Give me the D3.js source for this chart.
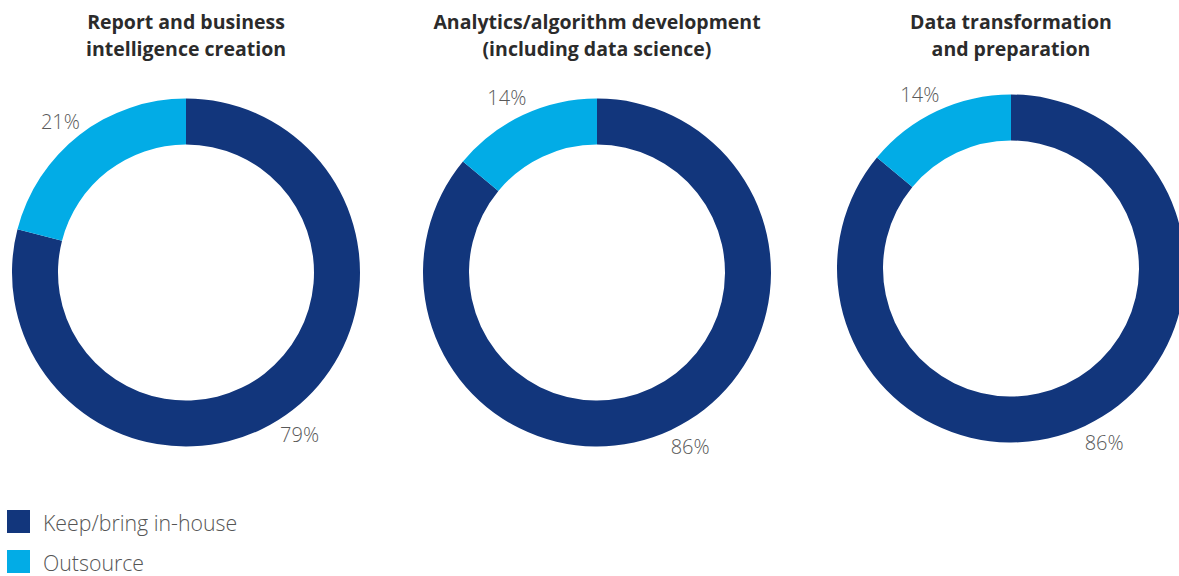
<!DOCTYPE html>
<html><head><meta charset="utf-8">
<script src="https://cdn.jsdelivr.net/npm/d3@7"></script>
<style>body{margin:0;background:#fff}svg{display:block}</style>
</head><body><svg id="c" width="1179" height="576"></svg>
<script>
const titles = [["Report and business","intelligence creation"],["Analytics/algorithm development","(including data science)"],["Data transformation","and preparation"]];
const categories = ["Keep/bring in-house","Outsource"];
const inHouse = [79, 86, 86];
const outsource = [21, 14, 14];
const colors = ["#12367C", "#02ACE6"];

const layout = [{cx:186, cy:272.5},{cx:597, cy:272.5},{cx:1011, cy:268.5}];
const rOuter = 174, rInner = 128;
const labelNudge = [[[-9,4],[-3,7]],[[8,-7],[-5,6]],[[8,-7],[-6,7]]];

const svg = d3.select("#c");
const pie = d3.pie().sort(null).value(d=>d);
const arc = d3.arc().innerRadius(rInner).outerRadius(rOuter);
const labelArc = d3.arc().innerRadius(200).outerRadius(200);

titles.forEach((t,i)=>{
  const g = svg.append("g").attr("transform",`translate(${layout[i].cx},${layout[i].cy})`);
  const data = [inHouse[i], outsource[i]];
  const arcs = pie(data);
  g.selectAll("path").data(arcs).join("path").attr("d",arc).attr("fill",(d,j)=>colors[j]);
  g.selectAll("text.lab").data(arcs).join("text").attr("class","lab")
    .attr("x",(d,j)=>labelArc.centroid(d)[0]+labelNudge[i][j][0])
    .attr("y",(d,j)=>labelArc.centroid(d)[1]+labelNudge[i][j][1])
    .attr("text-anchor","middle").attr("dominant-baseline","central")
    .style("font-family","'Open Sans'").style("font-weight",300).style("font-size","20px").attr("fill","#595959")
    .text(d=>d.data+"%");
  const tt = svg.append("text").attr("text-anchor","middle")
    .style("font-family","'Open Sans'").style("font-weight",700).style("font-size","19.5px").attr("fill","#2b2b2b");
  t.forEach((line,k)=>tt.append("tspan").attr("x",layout[i].cx).attr("y",28.5+k*27).text(line));
});

const lg = svg.append("g");
categories.forEach((c,i)=>{
  lg.append("rect").attr("x",7).attr("y",510+i*40).attr("width",23).attr("height",23).attr("fill",colors[i]);
  lg.append("text").attr("x",43).attr("y",530.5+i*40)
    .style("font-family","'Open Sans'").style("font-weight",300).style("font-size","21.3px").attr("fill","#555")
    .text(c);
});
</script></body></html>
